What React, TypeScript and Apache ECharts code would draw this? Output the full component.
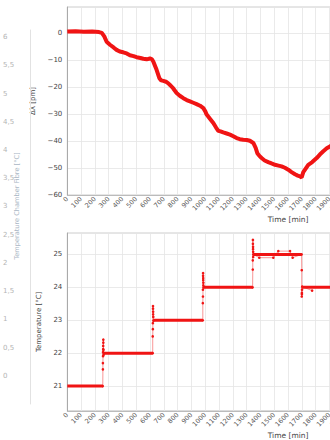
import React, { useEffect, useRef } from "react";
import * as echarts from "echarts";

// ---- Top chart: wavelength shift over time ----
const driftTime = [0, 60, 120, 180, 230, 250, 268, 285, 309, 335, 357, 380, 405, 430, 454, 480, 502, 530, 551, 575, 599, 612, 623, 647, 667, 680, 696, 715, 732, 750, 768, 792, 815, 841, 865, 889, 913, 937, 962, 986, 1000, 1010, 1035, 1058, 1078, 1094, 1110, 1130, 1155, 1179, 1203, 1227, 1250, 1275, 1300, 1323, 1348, 1365, 1377, 1392, 1408, 1430, 1456, 1480, 1505, 1530, 1553, 1577, 1601, 1625, 1650, 1670, 1686, 1698, 1710, 1730, 1746, 1775, 1807, 1830, 1855, 1880, 1903, 1930];
const driftValue = [0.6, 0.7, 0.5, 0.6, 0.4, 0.1, -1.2, -3.2, -4.3, -5.3, -6.2, -6.8, -7.1, -7.5, -8.2, -8.5, -8.9, -9.2, -9.5, -9.7, -9.4, -9.6, -10.5, -13.6, -16.7, -17.5, -17.7, -18.0, -18.6, -19.5, -20.5, -22.2, -23.2, -24.1, -24.8, -25.3, -25.8, -26.3, -26.9, -27.8, -29.0, -30.2, -31.8, -33.3, -35.0, -36.2, -36.4, -36.8, -37.2, -37.6, -38.2, -38.9, -39.3, -39.5, -39.6, -39.9, -40.7, -42.5, -44.5, -45.5, -46.3, -47.2, -47.8, -48.3, -48.8, -49.1, -49.4, -49.9, -50.6, -51.5, -52.3, -52.8, -53.1, -53.5, -51.5, -50.0, -48.8, -47.8, -46.3, -45.0, -43.8, -42.7, -42.0, -41.2];

// ---- Bottom chart: temperature steps ----
const plateauStart = [0, 264, 624, 987, 1348, 1702];
const plateauEnd = [257, 619, 982, 1343, 1698, 2000];
const plateauTemp = [21, 22, 23, 24, 25, 24];

const stepTime = [257, 258, 258, 259, 259, 260, 260, 261, 261, 262, 263, 264,
  619, 619, 620, 620, 621, 621, 622, 622, 623, 624,
  982, 982, 983, 983, 984, 984, 985, 985, 986, 986, 987,
  1343, 1344, 1344, 1345, 1345, 1346, 1346, 1347, 1347, 1348,
  1391, 1493, 1529, 1614, 1633,
  1698, 1699, 1699, 1700, 1700, 1701, 1702, 1774];
const stepTemp = [21, 21.51, 21.7, 21.91, 22.03, 22.12, 22.22, 22.32, 22.41, 22.1, 21.95, 22,
  22, 22.51, 22.73, 22.91, 23.43, 23.35, 23.26, 23.18, 23.1, 22.99,
  23, 23.52, 23.72, 23.93, 24.43, 24.35, 24.28, 24.22, 24.14, 24.06, 24.0,
  24, 24.54, 24.82, 25.44, 25.32, 25.23, 25.16, 25.08, 24.92, 25.0,
  24.9, 24.9, 25.1, 25.1, 24.9,
  25, 24.52, 23.72, 23.79, 23.83, 23.93, 24.02, 23.9];

// ---- Left partial axis (faded neighbouring figure) ----
const sideTicks = [0, 0.5, 1, 1.5, 2, 2.5, 3, 3.5, 4, 4.5, 5, 5.5, 6];
const sideTitle = "Temperature Chamber Fibre [\u00b0C]";

const FONT = "DejaVu Sans";
const RED = "#f01414";

function xAxisCfg(gridIndex: number) {
  return {
    type: "value",
    gridIndex,
    min: 0,
    max: 3200,
    interval: 100,
    name: "Time [min]",
    nameLocation: "middle",
    nameGap: 15,
    nameTextStyle: { fontFamily: FONT, fontSize: 7.5, color: "#444" },
    axisLine: { show: true, onZero: false, lineStyle: { color: "#bbb", width: 1 } },
    axisTick: { show: false },
    axisLabel: { rotate: 45, fontFamily: FONT, fontSize: 6.5, color: "#555", margin: 3, formatter: (v: number) => String(v) },
    splitLine: { show: true, lineStyle: { color: "#e4e4e4", width: 0.8 } },
  };
}

export default function App() {
  const ref = useRef<HTMLDivElement>(null);
  useEffect(() => {
    if (!ref.current) return;
    const chart = echarts.init(ref.current, null, { renderer: "svg" });
    const driftData = driftTime.map((t, i) => [t, driftValue[i]]);
    const plateauData: any[] = [];
    plateauStart.forEach((s, i) => {
      plateauData.push([s, plateauTemp[i]]);
      plateauData.push([plateauEnd[i], plateauTemp[i]]);
      plateauData.push([plateauEnd[i], null]);
    });
    const stepData = stepTime.map((t, i) => [t, stepTemp[i]]);
    const minus = (v: number) => String(v).replace("-", "\u2212");
    chart.setOption({
      animation: false,
      grid: [
        { left: 67.3, top: 7, width: 441.6, height: 188, show: true, borderColor: "#ccc", borderWidth: 1, backgroundColor: "#fff" },
        { left: 67.3, top: 233, width: 441.6, height: 188, show: true, borderColor: "#ccc", borderWidth: 1, backgroundColor: "#fff" },
        { left: 28, top: 30, width: 20, height: 374, show: false },
      ],
      graphic: [
        {
          type: "text", x: 17, y: 206, rotation: Math.PI / 2,
          style: { text: sideTitle, fontFamily: FONT, fontSize: 6.6, fill: "#a9b6c4", align: "center", verticalAlign: "middle" },
        },
      ],
      xAxis: [
        xAxisCfg(0),
        xAxisCfg(1),
        { type: "value", gridIndex: 2, show: false, min: 0, max: 1 },
      ],
      yAxis: [
        {
          type: "value", gridIndex: 0, min: -60, max: 9.7, interval: 10,
          name: "\u0394\u03bb [pm]", nameLocation: "middle", nameGap: 24, nameRotate: 90,
          nameTextStyle: { fontFamily: FONT, fontSize: 7, color: "#444" },
          axisLine: { show: true, lineStyle: { color: "#aaa" } },
          axisTick: { show: false },
          axisLabel: { fontFamily: FONT, fontSize: 7, color: "#444", margin: 5, showMaxLabel: false, formatter: (v: number) => minus(v) },
          splitLine: { show: true, lineStyle: { color: "#e4e4e4", width: 0.8 } },
        },
        {
          type: "value", gridIndex: 1, min: 20.25, max: 25.65, minInterval: 1, maxInterval: 1, splitNumber: 5,
          name: "Temperature [\u00b0C]", nameLocation: "middle", nameGap: 20, nameRotate: 90,
          nameTextStyle: { fontFamily: FONT, fontSize: 7, color: "#444" },
          axisLine: { show: true, lineStyle: { color: "#aaa" } },
          axisTick: { show: false },
          axisLabel: {
            fontFamily: FONT, fontSize: 7, color: "#444", margin: 5, showMaxLabel: false, showMinLabel: false,
            formatter: (v: number) => (Number.isInteger(v) ? String(v) : ""),
          },
          splitLine: { show: true, lineStyle: { color: "#e4e4e4", width: 0.8 } },
        },
        {
          type: "value", gridIndex: 2, position: "left", min: -0.5, max: 6.125, interval: 0.5,
          axisLine: { show: true, lineStyle: { color: "#e2e2e2" } },
          axisTick: { show: false },
          splitLine: { show: false },
          axisLabel: {
            fontFamily: FONT, fontSize: 7, color: "#b4b4b4", align: "left", margin: 27, showMaxLabel: false,
            formatter: (v: number) => (sideTicks.includes(v) ? String(v).replace(".", ",") : ""),
          },
        },
      ],
      series: [
        {
          type: "line", xAxisIndex: 0, yAxisIndex: 0, data: driftData, showSymbol: false,
          lineStyle: { color: RED, width: 4 }, z: 3,
        },
        {
          type: "line", xAxisIndex: 1, yAxisIndex: 1, data: stepData, showSymbol: true,
          symbol: "circle", symbolSize: 2.6, itemStyle: { color: RED },
          lineStyle: { color: "rgba(240,20,20,0.45)", width: 1 }, z: 3,
        },
        {
          type: "line", xAxisIndex: 1, yAxisIndex: 1, data: plateauData, showSymbol: false, connectNulls: false,
          lineStyle: { color: RED, width: 3 }, z: 4,
        },
      ],
    });
    return () => chart.dispose();
  }, []);
  return (
    <div style={{ position: "fixed", left: 0, top: 0, width: 330, height: 440, overflow: "hidden", background: "#fff" }}>
      <div ref={ref} style={{ width: 530, height: 440 }} />
    </div>
  );
}
